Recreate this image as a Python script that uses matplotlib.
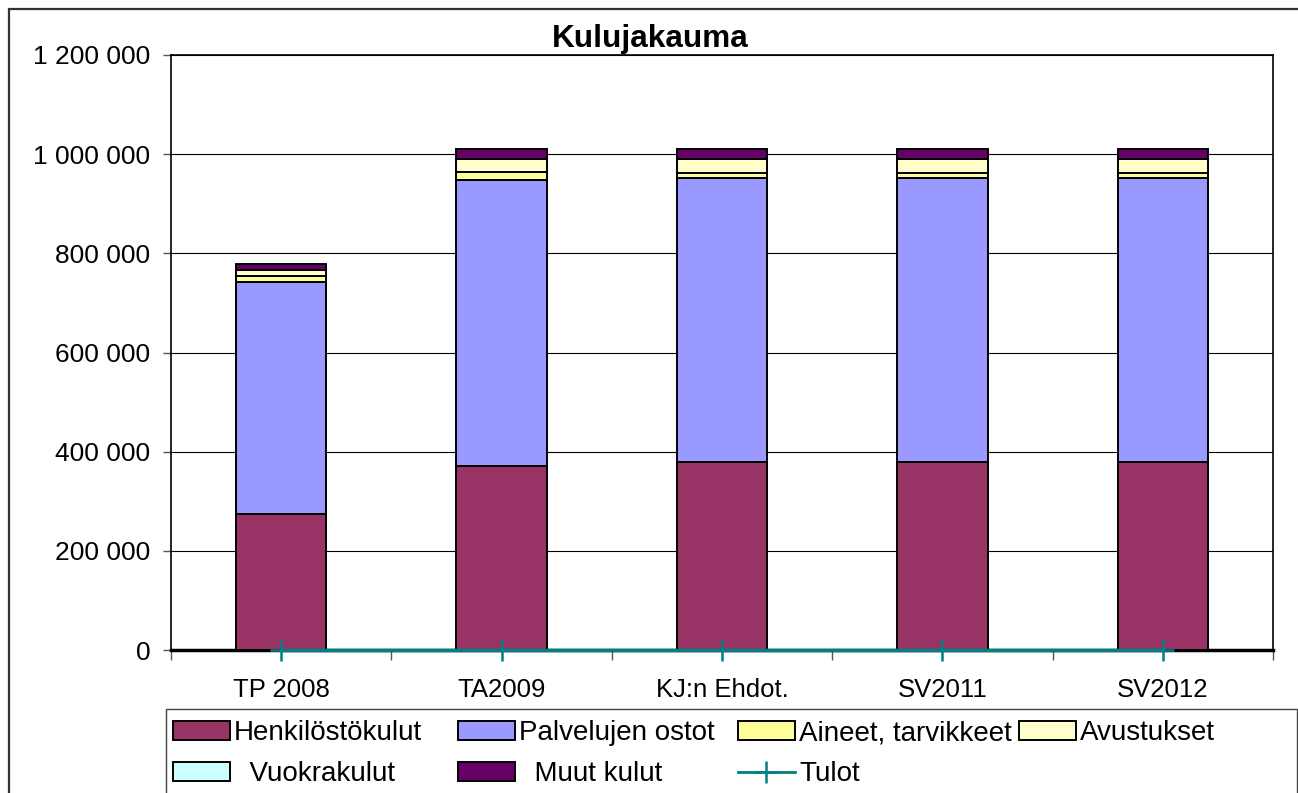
import matplotlib
matplotlib.use("Agg")
import matplotlib.pyplot as plt
from matplotlib.patches import Rectangle, Patch
from matplotlib.lines import Line2D
import numpy as np

plt.rcParams['font.family'] = ['Liberation Sans', 'DejaVu Sans']

categories = ['TP 2008', 'TA2009', 'KJ:n Ehdot.', 'SV2011', 'SV2012']
henkilosto = [274000, 371000, 379000, 379000, 379000]
palvelut = [468000, 576000, 572000, 572000, 572000]
aineet = [12000, 18000, 11000, 11000, 11000]
avustukset = [12000, 26000, 28000, 28000, 28000]
vuokrat = [0, 0, 0, 0, 0]
muut = [12000, 20000, 20000, 20000, 20000]
tulot = [0, 0, 0, 0, 0]
y_ticks = [0, 200000, 400000, 600000, 800000, 1000000, 1200000]

series = [
    ('Henkilöstökulut', henkilosto, '#993366'),
    ('Palvelujen ostot', palvelut, '#9999FF'),
    ('Aineet, tarvikkeet', aineet, '#FFFF99'),
    ('Avustukset', avustukset, '#FFFFCC'),
    ('  Vuokrakulut', vuokrat, '#CCFFFF'),
    ('  Muut kulut', muut, '#660066'),
]

W, H = 1298, 793
fig = plt.figure(figsize=(W / 100, H / 100), dpi=100)

# outer chart border (continues past right/bottom of the crop)
fig.patches.append(Rectangle((9 / W, -0.1), 1.2, 1.1 - 9 / H, transform=fig.transFigure,
                             fill=False, edgecolor='#333333', lw=1.6))

ax = fig.add_axes([171 / W, 1 - 650 / H, (1273 - 171) / W, (650 - 55) / H])

x = np.arange(len(categories))
bottom = np.zeros(len(categories))
handles = {}
for label, vals, color in series:
    ax.bar(x, vals, width=0.41, bottom=bottom, color=color, edgecolor='black', lw=1.4, zorder=3)
    bottom += np.array(vals)
    handles[label] = Patch(facecolor=color, edgecolor='black', lw=1.4)

ax.plot(x, tulot, color='#008080', lw=2.5, marker='+', ms=16, mew=1.8, zorder=6, clip_on=False)
handles['Tulot'] = Line2D([], [], color='#008080', lw=2, marker='+', ms=16, mew=1.8)

ax.set_xlim(-0.5, len(categories) - 0.5)
ax.set_ylim(0, 1200000)
ax.set_yticks(y_ticks)
ax.set_yticklabels([f"{v:,}".replace(',', ' ') for v in y_ticks], fontsize=19)
ax.set_xticks(x)
ax.set_xticklabels(categories, fontsize=18.5)
ax.set_xticks(np.arange(-0.5, len(categories)), minor=True)
ax.tick_params(axis='x', which='major', length=0, pad=20)
ax.tick_params(axis='x', which='minor', length=7, width=1, color='#555555')
ax.tick_params(axis='y', length=6, width=1, pad=9, color='#555555')
ax.yaxis.grid(True, color='black', lw=0.8)
ax.set_axisbelow(True)
for side in ['left', 'top', 'right']:
    ax.spines[side].set_color('black')
    ax.spines[side].set_linewidth(1.2)
ax.spines['bottom'].set_color('black')
ax.spines['bottom'].set_linewidth(2.5)

fig.text(650 / W, 1 - 47 / H, 'Kulujakauma', ha='center', va='baseline',
         fontsize=22.7, fontweight='bold')

# legend frame
fig.patches.append(Rectangle((166 / W, -0.05), (1297 - 166) / W, 0.05 + 1 - 709 / H,
                             transform=fig.transFigure, fill=True, facecolor='white',
                             edgecolor='#444444', lw=1.0, zorder=1))

columns = [
    (173, ['Henkilöstökulut', '  Vuokrakulut']),
    (458, ['Palvelujen ostot', '  Muut kulut']),
    (738, ['Aineet, tarvikkeet', 'Tulot']),
    (1019, ['Avustukset']),
]
for col_x, labels in columns:
    leg = fig.legend([handles[k] for k in labels], labels, loc='upper left',
                     bbox_to_anchor=(col_x / W, 1 - 720 / H), bbox_transform=fig.transFigure,
                     fontsize=20, frameon=False, handlelength=2.05, handleheight=0.65,
                     handletextpad=0.15, labelspacing=0.55, borderpad=0, borderaxespad=0)
    leg.set_zorder(2)

fig.savefig('out.png', dpi=100)
